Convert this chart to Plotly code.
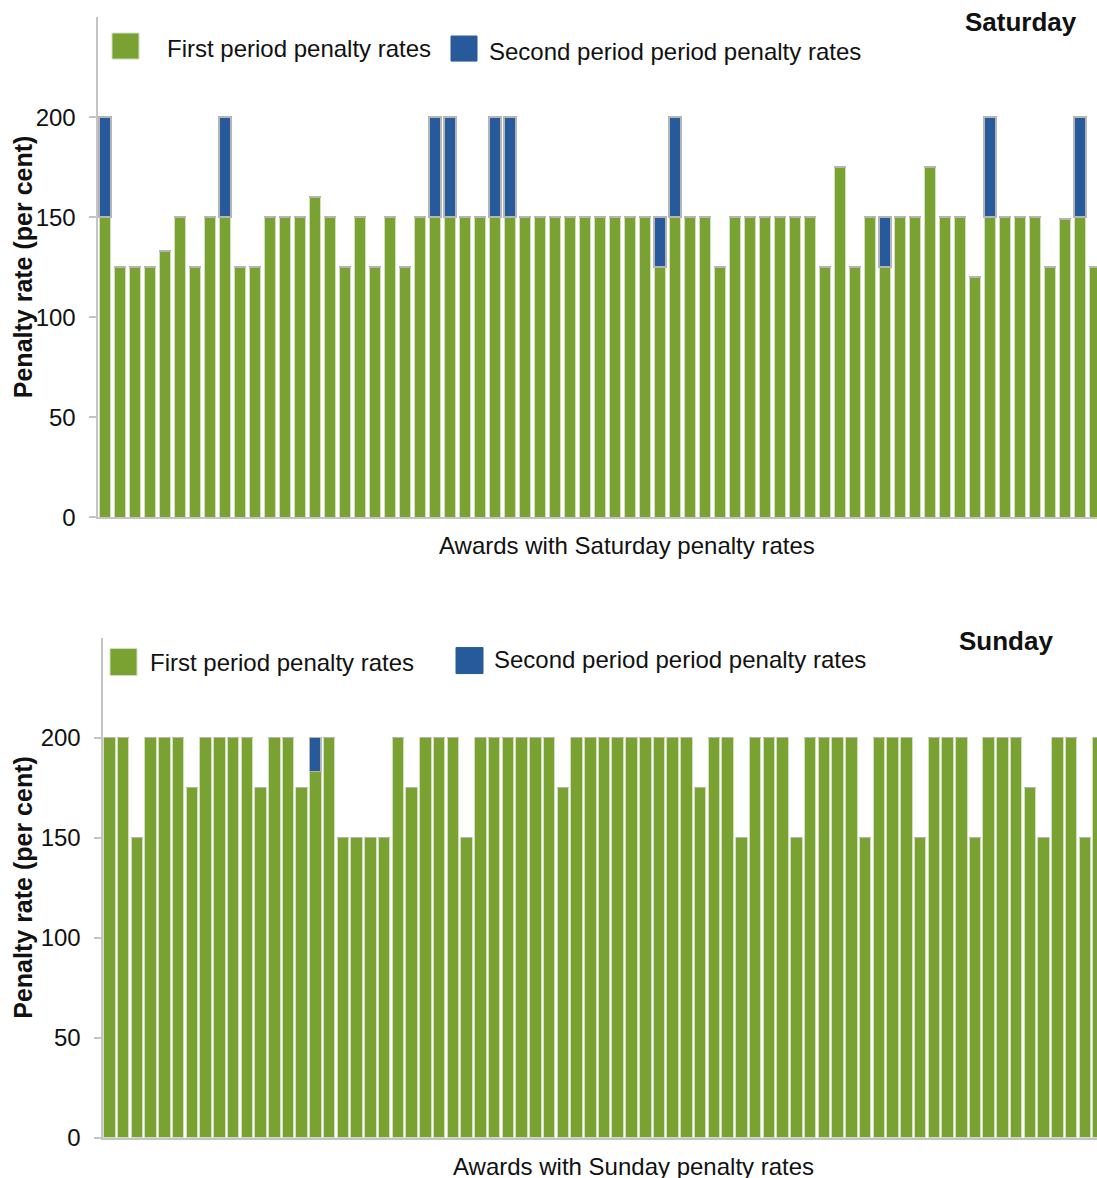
import plotly.graph_objects as go

# ---------------- data ----------------
sat_first = [150, 125, 125, 125, 133, 150, 125, 150, 150, 125,
             125, 150, 150, 150, 160, 150, 125, 150, 125, 150,
             125, 150, 150, 150, 150, 150, 150, 150, 150, 150,
             150, 150, 150, 150, 150, 150, 150, 125, 150, 150,
             150, 125, 150, 150, 150, 150, 150, 150, 125, 175,
             125, 150, 125, 150, 150, 175, 150, 150, 120, 150,
             150, 150, 150, 125, 149, 150, 125]
sat_second = [50, 0, 0, 0, 0, 0, 0, 0, 50, 0,
              0, 0, 0, 0, 0, 0, 0, 0, 0, 0,
              0, 0, 50, 50, 0, 0, 50, 50, 0, 0,
              0, 0, 0, 0, 0, 0, 0, 25, 50, 0,
              0, 0, 0, 0, 0, 0, 0, 0, 0, 0,
              0, 0, 25, 0, 0, 0, 0, 0, 0, 50,
              0, 0, 0, 0, 0, 50, 0]

sun_first = [200, 200, 150, 200, 200, 200, 175, 200, 200, 200,
             200, 175, 200, 200, 175, 183, 200, 150, 150, 150,
             150, 200, 175, 200, 200, 200, 150, 200, 200, 200,
             200, 200, 200, 175, 200, 200, 200, 200, 200, 200,
             200, 200, 200, 175, 200, 200, 150, 200, 200, 200,
             150, 200, 200, 200, 200, 150, 200, 200, 200, 150,
             200, 200, 200, 150, 200, 200, 200, 175, 150, 200,
             200, 150, 200]
sun_second = [0] * 15 + [17] + [0] * 57

y_ticks = [0, 50, 100, 150, 200]
series_names = ["First period penalty rates", "Second period period penalty rates"]
panel_titles = ["Saturday", "Sunday"]
x_titles = ["Awards with Saturday penalty rates", "Awards with Sunday penalty rates"]

# ---------------- style ----------------
REF_W, REF_H = 1097, 1178
W, H = 1097, 1191          # figure size
K = 1192.0 / REF_H         # vertical page pixels per reference pixel
GREEN = "#79a232"
BLUE = "#265a9b"
AXIS = "#c4c4c4"
FONT = "Liberation Sans, Arial, sans-serif"


def px(x):
    return x / W


def py(y):
    return 1 - (y * K) / H


fig = go.Figure()

sat_x = list(range(len(sat_first)))
sun_x = list(range(len(sun_first)))

fig.add_trace(go.Bar(x=sat_x, y=sat_first, name=series_names[0], width=0.78,
                     marker=dict(color=GREEN, line=dict(color="#cfe0bd", width=1)),
                     xaxis="x", yaxis="y", showlegend=False))
fig.add_trace(go.Bar(x=sat_x, y=sat_second, name=series_names[1], width=0.78,
                     marker=dict(color=BLUE, line=dict(color="#b5b5b5", width=1.5)),
                     xaxis="x", yaxis="y", showlegend=False))
fig.add_trace(go.Bar(x=sun_x, y=sun_first, name=series_names[0], width=0.84,
                     marker=dict(color=GREEN, line=dict(color="#cfe0bd", width=1)),
                     xaxis="x2", yaxis="y2", showlegend=False))
fig.add_trace(go.Bar(x=sun_x, y=sun_second, name=series_names[1], width=0.84,
                     marker=dict(color=BLUE, line=dict(color="#b5b5b5", width=1.5)),
                     xaxis="x2", yaxis="y2", showlegend=False))

top_step = 15.0
bot_step = 13.74
top_left = 97.5
bot_left = 102.5

common_y = dict(range=[0, 250], tickvals=y_ticks, ticks="outside", ticklen=7,
                tickwidth=1.5, tickcolor=AXIS, showline=True, linecolor=AXIS,
                linewidth=2, showgrid=False, zeroline=False,
                tickfont=dict(family=FONT, size=24, color="#111111"),
                ticklabelstandoff=8)
common_x = dict(showticklabels=False, ticks="", showline=True, linecolor=AXIS,
                linewidth=2, showgrid=False, zeroline=False)

fig.update_layout(
    width=W, height=H,
    margin=dict(l=0, r=0, t=0, b=0),
    paper_bgcolor="white", plot_bgcolor="white",
    barmode="stack",
    font=dict(family=FONT, size=24, color="#111111"),
    xaxis=dict(domain=[px(top_left), 1], range=[-0.5, -0.5 + (W - top_left) / top_step],
               anchor="y", **common_x),
    yaxis=dict(domain=[py(517), py(17)], anchor="x", **common_y),
    xaxis2=dict(domain=[px(bot_left), 1], range=[-0.5, -0.5 + (W - bot_left) / bot_step],
                anchor="y2", **common_x),
    yaxis2=dict(domain=[py(1137), py(637)], anchor="x2", **common_y),
)

shapes = []
annotations = []

# legends: (green box, green text pos, blue box, blue text pos) in reference pixels
legend_specs = [
    dict(g=(112, 33, 139, 59), gt=(165, 48), b=(451, 36, 477, 61), bt=(487, 51)),
    dict(g=(110, 648, 137, 675), gt=(148, 662), b=(456, 647, 483, 673), bt=(492, 659)),
]
for spec in legend_specs:
    x0, y0, x1, y1 = spec["g"]
    shapes.append(dict(type="rect", xref="paper", yref="paper", x0=px(x0), x1=px(x1),
                       y0=py(y1), y1=py(y0), fillcolor=GREEN,
                       line=dict(color="#cfe0bd", width=1)))
    x0, y0, x1, y1 = spec["b"]
    shapes.append(dict(type="rect", xref="paper", yref="paper", x0=px(x0), x1=px(x1),
                       y0=py(y1), y1=py(y0), fillcolor=BLUE,
                       line=dict(color=BLUE, width=1)))
    annotations.append(dict(text=series_names[0], xref="paper", yref="paper",
                            x=px(spec["gt"][0]), y=py(spec["gt"][1]), xanchor="left",
                            yanchor="middle", showarrow=False, font=dict(size=24)))
    annotations.append(dict(text=series_names[1], xref="paper", yref="paper",
                            x=px(spec["bt"][0]), y=py(spec["bt"][1]), xanchor="left",
                            yanchor="middle", showarrow=False, font=dict(size=24)))

# panel titles
annotations.append(dict(text="<b>%s</b>" % panel_titles[0], xref="paper", yref="paper",
                        x=px(1021), y=py(22), xanchor="center", yanchor="middle",
                        showarrow=False, font=dict(size=26)))
annotations.append(dict(text="<b>%s</b>" % panel_titles[1], xref="paper", yref="paper",
                        x=px(1006), y=py(640), xanchor="center", yanchor="middle",
                        showarrow=False, font=dict(size=26)))

# x titles
annotations.append(dict(text=x_titles[0], xref="paper", yref="paper",
                        x=px(627), y=py(545), xanchor="center", yanchor="middle",
                        showarrow=False, font=dict(size=24)))
annotations.append(dict(text=x_titles[1], xref="paper", yref="paper",
                        x=px(633), y=py(1166), xanchor="center", yanchor="middle",
                        showarrow=False, font=dict(size=24)))

# y titles
for yc in (267, 887):
    annotations.append(dict(text="<b>Penalty rate (per cent)</b>", xref="paper", yref="paper",
                            x=px(23), y=py(yc), xanchor="center", yanchor="middle",
                            textangle=-90, showarrow=False, font=dict(size=25)))

fig.update_layout(shapes=shapes, annotations=annotations)

fig.write_html("out.html", config={"displayModeBar": False},
               post_script="document.body.style.margin='0';document.body.style.overflow='hidden';")
